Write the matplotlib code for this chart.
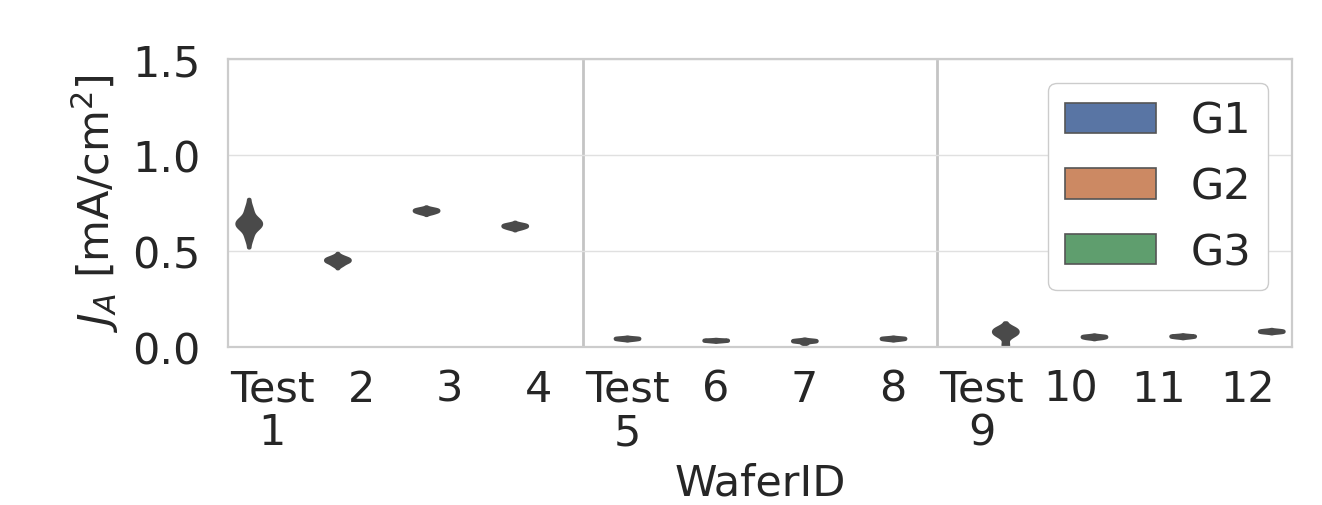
"""Violin plot of J_A per wafer, grouped G1/G2/G3."""

import matplotlib
matplotlib.use("Agg")

import matplotlib.pyplot as plt
import pandas as pd
import seaborn as sns
from matplotlib.collections import PolyCollection

# ---------------------------------------------------------------------------
# Data
# ---------------------------------------------------------------------------
WAFERS = ["1", "2", "3", "4", "5", "6", "7", "8", "9", "10", "11", "12"]
TICK_LABELS = ["Test\n1", "2", "3", "4", "Test\n5", "6", "7", "8",
               "Test\n9", "10", "11", "12"]
GROUP_OF_WAFER = ["G1", "G1", "G1", "G1", "G2", "G2", "G2", "G2",
                  "G3", "G3", "G3", "G3"]
GROUPS = ["G1", "G2", "G3"]

JA_W1 = [0.57, 0.60, 0.63, 0.64, 0.64, 0.642, 0.645, 0.65, 0.66, 0.69, 0.72]
JA_W2 = [0.43, 0.44, 0.45, 0.452, 0.455, 0.46, 0.47]
JA_W3 = [0.70, 0.705, 0.71, 0.712, 0.715, 0.72]
JA_W4 = [0.62, 0.625, 0.63, 0.632, 0.635, 0.64]
JA_W5 = [0.040, 0.042, 0.044, 0.045, 0.046, 0.048]
JA_W6 = [0.032, 0.034, 0.035, 0.036, 0.037]
JA_W7 = [0.022, 0.030, 0.032, 0.033, 0.034, 0.035]
JA_W8 = [0.040, 0.042, 0.044, 0.045, 0.046, 0.048]
JA_W9 = [0.010, 0.060, 0.078, 0.082, 0.084, 0.086, 0.088]
JA_W10 = [0.048, 0.050, 0.053, 0.054, 0.056, 0.058]
JA_W11 = [0.052, 0.054, 0.056, 0.057, 0.058, 0.060]
JA_W12 = [0.078, 0.080, 0.082, 0.083, 0.085, 0.087]

ALL_JA = [JA_W1, JA_W2, JA_W3, JA_W4, JA_W5, JA_W6,
          JA_W7, JA_W8, JA_W9, JA_W10, JA_W11, JA_W12]

rows = []
for wafer, grp, vals in zip(WAFERS, GROUP_OF_WAFER, ALL_JA):
    for v in vals:
        rows.append({"WaferID": wafer, "Group": grp, "JA": v})
df = pd.DataFrame(rows)

# ---------------------------------------------------------------------------
# Figure
# ---------------------------------------------------------------------------
sns.set_theme(style="whitegrid")
plt.rcParams.update({
    "font.family": ["DejaVu Sans"],
    "font.size": 31,
    "axes.labelsize": 31,
    "xtick.labelsize": 31,
    "ytick.labelsize": 31,
    "legend.fontsize": 31,
    "axes.edgecolor": "#cccccc",
    "axes.linewidth": 1.6,
    "grid.color": "#e0e0e0",
})

fig = plt.figure(figsize=(13.22, 5.06), dpi=100)
ax = fig.add_axes([0.1725, 0.3123, 0.8048, 0.5691])

sns.violinplot(data=df, x="WaferID", y="JA", hue="Group", order=WAFERS,
               hue_order=GROUPS, dodge=True, density_norm="width",
               palette="deep", inner=None, linewidth=3, ax=ax)

# the bodies are so thin that the outline swallows them: solid dark grey
for coll in ax.collections:
    if isinstance(coll, PolyCollection):
        coll.set_facecolor("#4a4a4a")
        coll.set_edgecolor("#4a4a4a")

ax.axvline(3.5, color="#c4c4c4", lw=2, zorder=0)
ax.axvline(7.5, color="#c4c4c4", lw=2, zorder=0)

ax.set_ylim(0, 1.5)
ax.set_yticks([0.0, 0.5, 1.0, 1.5])
ax.set_xlim(-0.5, 11.5)
ax.set_xticks(range(len(WAFERS)))
ax.set_xticklabels(TICK_LABELS, linespacing=1.05)
ax.tick_params(axis="x", pad=9)
ax.tick_params(axis="y", pad=14)
ax.set_xlabel("WaferID", labelpad=6)
ax.set_ylabel(r"$J_A$ [mA/cm$^2$]", labelpad=8)
ax.grid(axis="x", visible=False)

leg = ax.legend(loc="upper right", handlelength=2.1, handleheight=0.7,
                labelspacing=0.55, borderaxespad=0.55, framealpha=1.0)
for patch in leg.get_patches():
    patch.set_linewidth(1.2)
    patch.set_edgecolor("#555555")

fig.savefig("out.png", dpi=100)
